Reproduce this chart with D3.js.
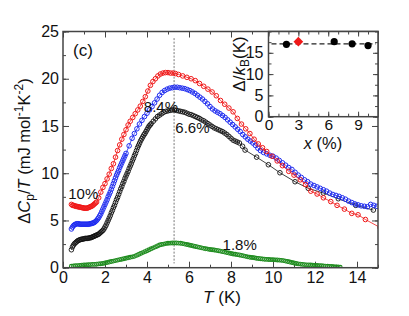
<!DOCTYPE html>
<html><head><meta charset="utf-8">
<script src="https://cdn.jsdelivr.net/npm/d3@7"></script>
<style>body{margin:0;background:#fff} text{font-family:"Liberation Sans",Arial,Helvetica,sans-serif;fill:#111}</style>
</head><body><svg id="c" width="409" height="316"></svg>
<script>
// ---- data (T in K, ΔCp/T in mJ mol^-1 K^-2) ----
const red10 = [[0.40,6.7],[0.45,6.6],[0.50,6.6],[0.55,6.55],[0.60,6.5],[0.65,6.5],[0.70,6.45],[0.75,6.45],[0.80,6.4],[0.85,6.4],[0.90,6.35],[0.95,6.35],[1.00,6.3],[1.05,6.3],[1.10,6.3],[1.15,6.3],[1.20,6.35],[1.25,6.4],[1.30,6.45],[1.35,6.5],[1.40,6.55],[1.45,6.65],[1.50,6.75],[1.55,6.85],[1.60,6.95],[1.70,7.4],[1.80,8.0],[1.90,8.5],[2.00,8.9],[2.10,9.4],[2.20,9.9],[2.30,10.5],[2.40,11.0],[2.50,11.7],[2.60,12.4],[2.70,13.0],[2.80,13.6],[2.90,14.1],[3.00,14.6],[3.10,15.1],[3.20,15.5],[3.32,15.9],[3.44,16.3],[3.56,16.7],[3.68,17.1],[3.80,17.6],[3.92,18.1],[4.04,18.7],[4.16,19.3],[4.28,19.7],[4.40,20.0],[4.52,20.3],[4.64,20.5],[4.76,20.6],[4.88,20.65],[5.00,20.65],[5.12,20.6],[5.24,20.6],[5.36,20.55],[5.50,20.45],[5.70,20.3],[5.90,20.15],[6.10,20.0],[6.30,19.8],[6.50,19.5],[6.70,19.2],[6.90,18.9],[7.10,18.6],[7.30,18.2],[7.50,17.7],[7.70,17.3],[7.90,16.9],[8.10,16.5],[8.30,15.8],[8.50,15.2],[8.70,14.7],[8.90,14.2],[9.10,13.6],[9.30,13.1],[9.50,12.7],[9.70,12.3],[9.95,11.8],[10.20,11.3],[10.45,10.8],[10.75,10.2],[11.00,9.8],[11.30,9.3],[11.55,8.8],[11.80,8.1],[12.10,7.8],[12.40,7.4],[12.75,7.0],[13.05,6.6],[13.40,6.2],[13.75,5.75],[14.05,5.6],[14.40,5.1],[15.10,4.25]];
const blue84 = [[0.40,4.1],[0.45,4.3],[0.50,4.45],[0.55,4.55],[0.60,4.6],[0.65,4.65],[0.70,4.65],[0.75,4.65],[0.80,4.6],[0.85,4.6],[0.90,4.6],[0.95,4.6],[1.00,4.6],[1.05,4.6],[1.10,4.6],[1.15,4.6],[1.20,4.6],[1.25,4.62],[1.30,4.65],[1.35,4.68],[1.40,4.7],[1.45,4.75],[1.50,4.8],[1.55,4.9],[1.60,5.0],[1.65,5.15],[1.70,5.3],[1.75,5.5],[1.80,5.7],[1.85,5.95],[1.90,6.2],[1.95,6.45],[2.00,6.7],[2.05,6.95],[2.10,7.2],[2.15,7.5],[2.20,7.75],[2.25,8.0],[2.30,8.3],[2.35,8.6],[2.40,8.9],[2.45,9.2],[2.50,9.5],[2.55,9.8],[2.60,10.05],[2.65,10.3],[2.70,10.6],[2.75,10.85],[2.80,11.1],[2.85,11.35],[2.90,11.6],[2.95,11.85],[3.00,12.1],[3.15,12.9],[3.29,13.7],[3.40,14.2],[3.52,14.7],[3.64,15.2],[3.76,15.6],[3.88,16.0],[4.00,16.35],[4.12,16.7],[4.24,17.05],[4.36,17.45],[4.48,17.85],[4.60,18.25],[4.72,18.55],[4.84,18.75],[4.96,18.9],[5.08,19.0],[5.20,19.05],[5.32,19.1],[5.44,19.1],[5.56,19.05],[5.68,19.0],[5.80,18.95],[5.92,18.85],[6.04,18.75],[6.16,18.6],[6.28,18.45],[6.40,18.25],[6.52,18.05],[6.64,17.85],[6.76,17.6],[6.88,17.35],[7.00,17.05],[7.12,16.8],[7.24,16.6],[7.36,16.45],[7.48,16.3],[7.60,16.1],[7.72,15.9],[7.84,15.65],[7.96,15.4],[8.08,15.15],[8.20,14.9],[8.32,14.65],[8.44,14.4],[8.56,14.1],[8.68,13.85],[8.80,13.6],[8.92,13.4],[9.04,13.2],[9.16,12.95],[9.28,12.65],[9.40,12.4],[9.55,12.2],[9.70,12.05],[9.85,11.9],[10.00,11.8],[10.15,11.6],[10.30,11.35],[10.45,11.1],[10.60,10.85],[10.75,10.6],[10.90,10.4],[11.05,10.1],[11.20,9.8],[11.35,9.55],[11.50,9.3],[11.65,9.1],[11.80,8.85],[11.95,8.7],[12.10,8.55],[12.25,8.4],[12.40,8.25],[12.55,8.1],[12.70,7.9],[12.85,7.75],[13.00,7.65],[13.15,7.55],[13.30,7.4],[13.45,7.25],[13.60,7.05],[13.75,6.9],[13.90,6.75],[14.05,6.65],[14.20,6.55],[14.35,6.5],[14.50,6.45],[14.65,6.7],[14.80,6.6],[14.95,6.5]];
const black66 = [[0.40,1.9],[0.45,2.2],[0.50,2.4],[0.55,2.55],[0.60,2.65],[0.65,2.75],[0.70,2.85],[0.75,2.9],[0.80,2.95],[0.85,3.0],[0.90,3.0],[0.95,3.05],[1.00,3.05],[1.05,3.1],[1.10,3.1],[1.15,3.1],[1.20,3.12],[1.25,3.15],[1.30,3.17],[1.35,3.2],[1.40,3.25],[1.45,3.3],[1.50,3.35],[1.55,3.4],[1.60,3.45],[1.65,3.5],[1.70,3.55],[1.75,3.65],[1.80,3.75],[1.85,3.85],[1.90,3.95],[1.95,4.1],[2.00,4.3],[2.05,4.5],[2.10,4.75],[2.15,5.0],[2.20,5.25],[2.25,5.5],[2.30,5.8],[2.35,6.05],[2.40,6.35],[2.45,6.6],[2.50,6.9],[2.55,7.2],[2.60,7.45],[2.65,7.75],[2.70,8.05],[2.75,8.35],[2.80,8.6],[2.85,8.9],[2.90,9.15],[2.95,9.45],[3.00,9.7],[3.05,9.95],[3.10,10.2],[3.15,10.5],[3.20,10.75],[3.25,11.0],[3.30,11.3],[3.35,11.55],[3.40,11.85],[3.45,12.1],[3.50,12.4],[3.55,12.7],[3.60,12.95],[3.65,13.2],[3.70,13.45],[3.75,13.65],[3.80,13.85],[3.85,14.05],[3.90,14.2],[3.95,14.4],[4.00,14.6],[4.05,14.8],[4.10,15.0],[4.15,15.1],[4.20,15.25],[4.30,15.5],[4.40,15.75],[4.50,16.0],[4.60,16.15],[4.70,16.3],[4.80,16.45],[4.90,16.55],[5.00,16.6],[5.10,16.65],[5.20,16.7],[5.30,16.7],[5.40,16.65],[5.50,16.6],[5.60,16.55],[5.70,16.5],[5.80,16.45],[5.90,16.35],[6.00,16.25],[6.10,16.2],[6.20,16.1],[6.30,16.0],[6.40,15.9],[6.50,15.8],[6.60,15.65],[6.70,15.55],[6.80,15.4],[6.90,15.25],[7.00,15.1],[7.10,14.95],[7.20,14.8],[7.30,14.7],[7.40,14.6],[7.50,14.5],[7.60,14.4],[7.70,14.25],[7.80,14.1],[7.90,13.9],[8.00,13.7],[8.10,13.5],[8.20,13.4],[8.30,13.3],[8.40,13.2],[8.55,12.85],[8.67,12.45],[9.22,11.7],[9.78,10.9],[10.33,10.05],[11.05,9.1],[11.68,8.4],[12.40,7.9],[13.11,7.3],[13.94,6.6],[14.78,6.1]];
const green18 = [[0.4,0.15],[0.5,0.18],[0.6,0.2],[0.7,0.22],[0.8,0.25],[0.9,0.27],[1.0,0.3],[1.1,0.3],[1.2,0.32],[1.3,0.33],[1.4,0.35],[1.5,0.35],[1.6,0.37],[1.7,0.4],[1.8,0.42],[1.9,0.45],[2.0,0.5],[2.1,0.55],[2.2,0.6],[2.3,0.65],[2.4,0.7],[2.5,0.75],[2.6,0.8],[2.7,0.85],[2.8,0.9],[2.9,0.95],[3.0,1.0],[3.1,1.05],[3.2,1.1],[3.3,1.15],[3.4,1.2],[3.5,1.3],[3.6,1.4],[3.7,1.5],[3.8,1.6],[3.9,1.7],[4.0,1.8],[4.1,1.9],[4.2,2.0],[4.3,2.1],[4.4,2.2],[4.5,2.3],[4.6,2.4],[4.7,2.45],[4.8,2.5],[4.9,2.55],[5.0,2.58],[5.1,2.6],[5.2,2.62],[5.3,2.62],[5.4,2.62],[5.5,2.6],[5.6,2.58],[5.7,2.55],[5.8,2.5],[5.9,2.45],[6.0,2.4],[6.1,2.35],[6.2,2.3],[6.3,2.25],[6.4,2.2],[6.5,2.15],[6.6,2.1],[6.7,2.05],[6.8,2.0],[6.9,1.97],[7.0,1.93],[7.1,1.9],[7.2,1.87],[7.3,1.83],[7.4,1.8],[7.5,1.75],[7.6,1.7],[7.7,1.65],[7.8,1.6],[7.9,1.55],[8.0,1.5],[8.1,1.45],[8.2,1.42],[8.3,1.38],[8.4,1.35],[8.5,1.3],[8.6,1.25],[8.7,1.2],[8.8,1.15],[8.9,1.1],[9.0,1.08],[9.1,1.05],[9.2,1.0],[9.3,0.98],[9.4,0.95],[9.5,0.92],[9.6,0.9],[9.7,0.88],[9.8,0.86],[9.9,0.85],[10.0,0.85],[10.1,0.83],[10.2,0.82],[10.3,0.8],[10.4,0.78],[10.5,0.75],[10.6,0.7],[10.7,0.65],[10.8,0.6],[10.9,0.55],[11.0,0.5],[11.1,0.45],[11.2,0.4],[11.3,0.38],[11.4,0.35],[11.5,0.33],[11.6,0.3],[11.7,0.3],[11.8,0.28],[11.9,0.27],[12.0,0.25],[12.1,0.23],[12.2,0.22],[12.3,0.2],[12.4,0.18],[12.5,0.17],[12.6,0.15],[12.7,0.13],[12.8,0.12],[12.9,0.1],[13.0,0.08],[13.1,0.07],[13.2,0.05]];
const seriesLabels = [["10%",0.25,7.3],["8.4%",3.85,16.5],["6.6%",5.35,14.3],["1.8%",7.6,1.9]];
const peakT = 5.29;
const xTicks = [0,2,4,6,8,10,12,14];
const yTicks = [0,5,10,15,20,25];
// inset: gap Δ/kB vs x
const insetX = [1.8, 6.6, 8.4, 10];
const insetY = [17.0, 17.6, 17.1, 16.7];
const insetRedX = [3.0];
const insetRedY = [17.6];
const insetMean = 17.1;
const insetXTicks = [0,3,6,9];
const insetYTicks = [0,5,10,15];

const svg = d3.select("#c");
const L=63,R=378,T=31.5,B=267.7;
const x = d3.scaleLinear().domain([0,15]).range([L,R]);
const y = d3.scaleLinear().domain([0,25]).range([B,T]);
const frameColor="#444";

svg.append("defs").append("clipPath").attr("id","clipMain")
  .append("rect").attr("x",L).attr("y",T).attr("width",R-L).attr("height",B-T);

function ticksOn(g, scale, vals, orient, size){
  const ax = orient(scale).tickValues(vals).tickSize(size).tickFormat("");
  g.call(ax); g.select(".domain").remove();
  g.selectAll(".tick line").attr("stroke",frameColor).attr("stroke-width",1);
}
// main ticks (inward, all four sides)
const xMinor = d3.range(0,16,1), yMinor = d3.range(0,25.1,2.5);
ticksOn(svg.append("g").attr("transform",`translate(0,${B})`), x, xMinor, d3.axisBottom, -3);
ticksOn(svg.append("g").attr("transform",`translate(0,${T})`), x, xMinor, d3.axisTop, -3);
ticksOn(svg.append("g").attr("transform",`translate(${L},0)`), y, yMinor, d3.axisLeft, -3);
ticksOn(svg.append("g").attr("transform",`translate(${R},0)`), y, yMinor, d3.axisRight, -3);
ticksOn(svg.append("g").attr("transform",`translate(0,${B})`), x, xTicks, d3.axisBottom, -6);
ticksOn(svg.append("g").attr("transform",`translate(0,${T})`), x, xTicks, d3.axisTop, -6);
ticksOn(svg.append("g").attr("transform",`translate(${L},0)`), y, yTicks, d3.axisLeft, -6);
ticksOn(svg.append("g").attr("transform",`translate(${R},0)`), y, yTicks, d3.axisRight, -6);

// tick labels
const gx = svg.append("g").attr("transform",`translate(0,${B})`)
  .call(d3.axisBottom(x).tickValues(xTicks).tickSize(0).tickPadding(4));
gx.select(".domain").remove();
gx.selectAll("text").style("font-size","16px").attr("fill","#111");
const gy = svg.append("g").attr("transform",`translate(${L},0)`)
  .call(d3.axisLeft(y).tickValues(yTicks).tickSize(0).tickPadding(4));
gy.select(".domain").remove();
gy.selectAll("text").style("font-size","16px").attr("fill","#111");

// dashed vertical line at peak
svg.append("line").attr("x1",x(peakT)).attr("x2",x(peakT)).attr("y1",y(24.3)).attr("y2",y(0.45))
  .attr("stroke","#777").attr("stroke-width",1).attr("stroke-dasharray","2,1.5");

const plot = svg.append("g").attr("clip-path","url(#clipMain)");
const line = d3.line().x(d=>x(d[0])).y(d=>y(d[1]));
function drawSeries(data, color, r, sw, withLine){
  if(withLine) plot.append("path").datum(data).attr("d",line).attr("fill","none").attr("stroke",color).attr("stroke-width",0.8);
  plot.append("g").selectAll("circle").data(data).join("circle")
    .attr("cx",d=>x(d[0])).attr("cy",d=>y(d[1])).attr("r",r)
    .attr("fill","none").attr("stroke",color).attr("stroke-width",sw);
}
drawSeries(green18, "#1e8c1e", 1.9, 1.1, false);
drawSeries(black66, "#111", 2.3, 0.9, true);
drawSeries(blue84, "#1f2cf0", 2.3, 1, true);
drawSeries(red10, "#f01818", 2.3, 1, true);

// frame
svg.append("rect").attr("x",L).attr("y",T).attr("width",R-L).attr("height",B-T)
  .attr("fill","none").attr("stroke",frameColor).attr("stroke-width",1.5);

// series labels
svg.append("g").selectAll("text").data(seriesLabels).join("text")
  .attr("x",d=>x(d[1])).attr("y",d=>y(d[2])).text(d=>d[0]).style("font-size","15px");
svg.append("text").attr("x",73).attr("y",56).text("(c)").style("font-size","17px");

// axis titles
const xt = svg.append("text").attr("x",222).attr("y",303).attr("text-anchor","middle").style("font-size","17px");
xt.append("tspan").attr("font-style","italic").text("T");
xt.append("tspan").text(" (K)");
const yt = svg.append("text").attr("transform","translate(30,151) rotate(-90)").attr("text-anchor","middle").style("font-size","16.5px");
yt.append("tspan").text("Δ");
yt.append("tspan").attr("font-style","italic").text("C");
yt.append("tspan").attr("dy",4).style("font-size","12px").text("p");
yt.append("tspan").attr("dy",-4).text("/");
yt.append("tspan").attr("font-style","italic").text("T");
yt.append("tspan").text(" (mJ mol");
yt.append("tspan").attr("dy",-7).style("font-size","12px").text("-1");
yt.append("tspan").attr("dy",7).text("K");
yt.append("tspan").attr("dy",-7).style("font-size","12px").text("-2");
yt.append("tspan").attr("dy",7).text(")");

// ---- inset ----
const iL=268.5,iR=R,iT=T,iB=116.7;
const ix = d3.scaleLinear().domain([0,11]).range([iL,iR]);
const iy = d3.scaleLinear().domain([0,20]).range([iB,iT]);
svg.append("rect").attr("x",iL).attr("y",iT).attr("width",iR-iL).attr("height",iB-iT).attr("fill","#fff");
ticksOn(svg.append("g").attr("transform",`translate(0,${iB})`), ix, d3.range(0,11,1), d3.axisBottom, -3);
ticksOn(svg.append("g").attr("transform",`translate(0,${iT})`), ix, d3.range(0,11,1), d3.axisTop, -3);
ticksOn(svg.append("g").attr("transform",`translate(${iL},0)`), iy, d3.range(0,20.1,2.5), d3.axisLeft, -3);
ticksOn(svg.append("g").attr("transform",`translate(${iR},0)`), iy, d3.range(0,20.1,2.5), d3.axisRight, -3);
ticksOn(svg.append("g").attr("transform",`translate(0,${iB})`), ix, insetXTicks, d3.axisBottom, -5);
ticksOn(svg.append("g").attr("transform",`translate(0,${iT})`), ix, insetXTicks, d3.axisTop, -5);
ticksOn(svg.append("g").attr("transform",`translate(${iL},0)`), iy, insetYTicks, d3.axisLeft, -5);
ticksOn(svg.append("g").attr("transform",`translate(${iR},0)`), iy, insetYTicks, d3.axisRight, -5);
const igx = svg.append("g").attr("transform",`translate(0,${iB})`)
  .call(d3.axisBottom(ix).tickValues(insetXTicks).tickSize(0).tickPadding(2));
igx.select(".domain").remove(); igx.selectAll("text").style("font-size","15.5px").attr("fill","#111");
const igy = svg.append("g").attr("transform",`translate(${iL},0)`)
  .call(d3.axisLeft(iy).tickValues(insetYTicks).tickSize(0).tickPadding(5));
igy.select(".domain").remove(); igy.selectAll("text").style("font-size","16px").attr("fill","#111");
svg.append("line").attr("x1",ix(0.3)).attr("x2",ix(10.8)).attr("y1",iy(insetMean)).attr("y2",iy(insetMean))
  .attr("stroke","#222").attr("stroke-width",1.3).attr("stroke-dasharray","5,3");
svg.append("g").selectAll("circle").data(insetX).join("circle")
  .attr("cx",d=>ix(d)).attr("cy",(d,i)=>iy(insetY[i])).attr("r",3.6).attr("fill","#000");
svg.append("g").selectAll("path").data(insetRedX).join("path")
  .attr("transform",(d,i)=>`translate(${ix(d)},${iy(insetRedY[i])})`)
  .attr("d",d3.symbol(d3.symbolDiamond2 || d3.symbolDiamond, 60)).attr("fill","#f01818");
svg.append("rect").attr("x",iL).attr("y",iT).attr("width",iR-iL).attr("height",iB-iT)
  .attr("fill","none").attr("stroke",frameColor).attr("stroke-width",1.5);
const ixt = svg.append("text").attr("x",323).attr("y",149).attr("text-anchor","middle").style("font-size","16.5px");
ixt.append("tspan").attr("font-style","italic").text("x");
ixt.append("tspan").text(" (%)");
const iyt = svg.append("text").attr("transform","translate(245,64) rotate(-90)").attr("text-anchor","middle").style("font-size","17px");
iyt.append("tspan").text("Δ/");
iyt.append("tspan").attr("font-style","italic").text("k");
iyt.append("tspan").attr("dy",4).style("font-size","12px").text("B");
iyt.append("tspan").attr("dy",-4).text("(K)");
</script></body></html>
